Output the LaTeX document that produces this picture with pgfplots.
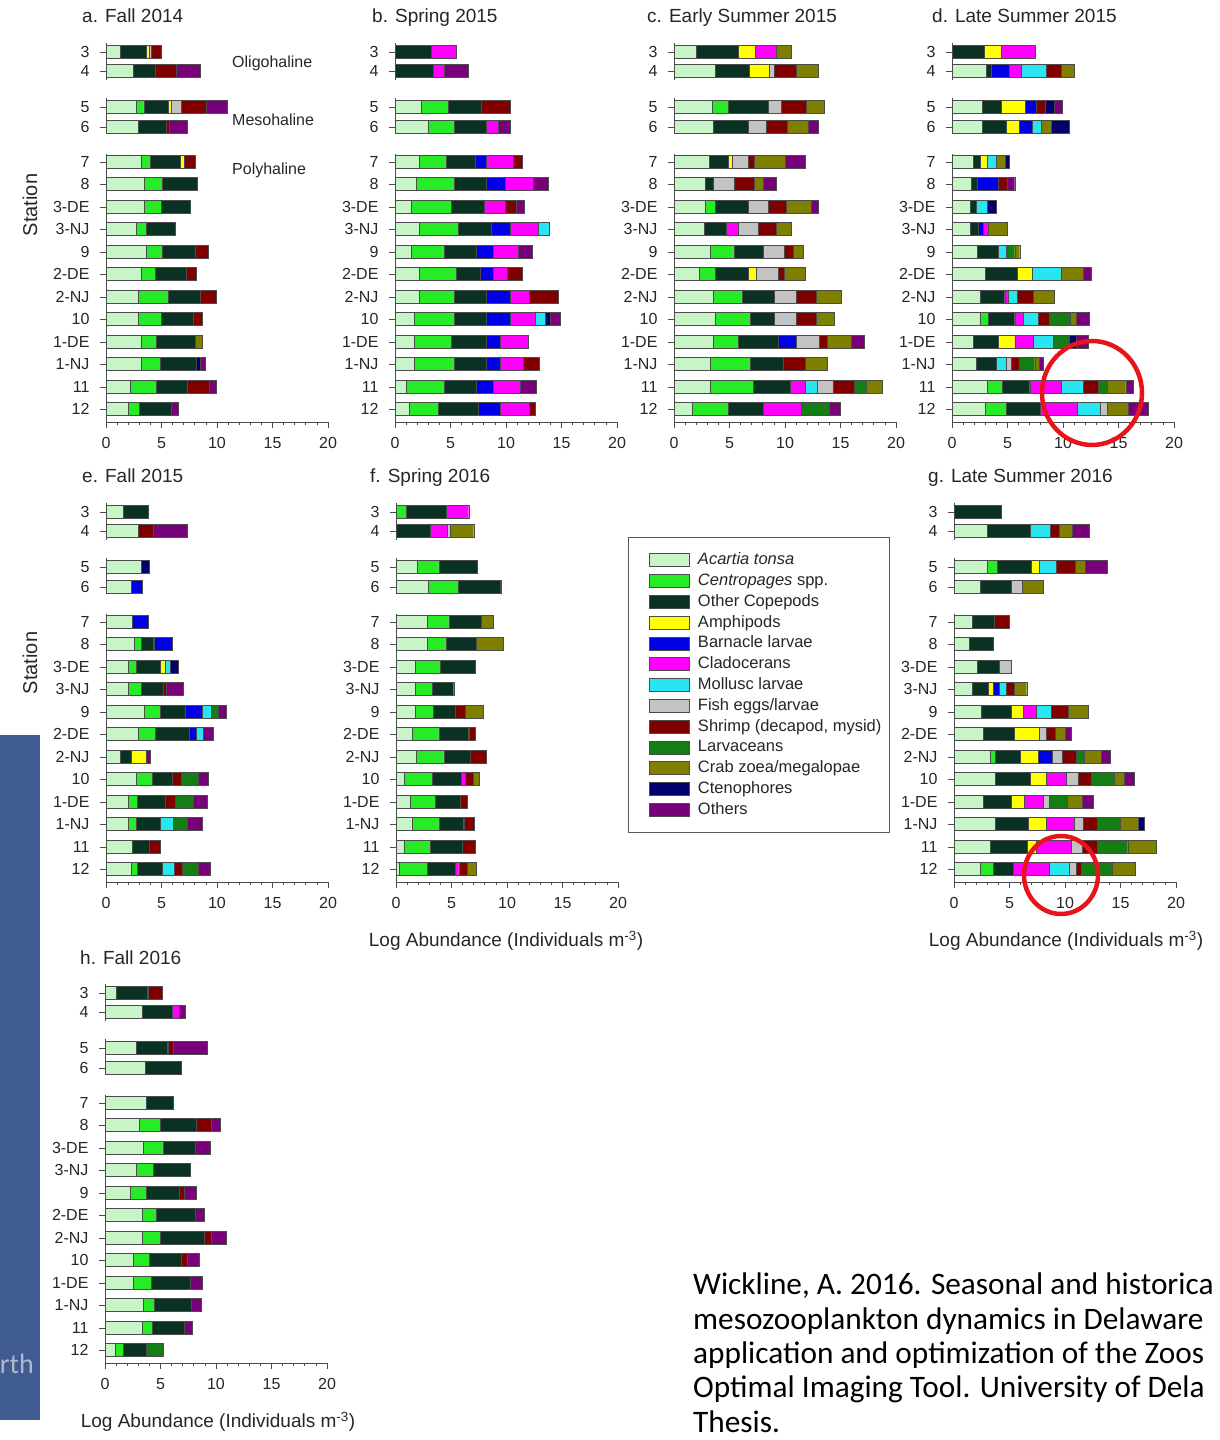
\documentclass[border=0pt]{standalone}
\usepackage{pgfplots}
\pgfplotsset{compat=1.18}
\usepackage{pgfplotstable}
\usepackage{fontspec}
\setmainfont{Liberation Sans}
\newfontfamily\calib{Carlito}

\definecolor{cAc}{RGB}{200,245,200}
\definecolor{cCe}{RGB}{40,235,40}
\definecolor{cOc}{RGB}{10,50,35}
\definecolor{cAm}{RGB}{255,255,0}
\definecolor{cBa}{RGB}{0,0,230}
\definecolor{cCl}{RGB}{255,0,255}
\definecolor{cMo}{RGB}{40,230,240}
\definecolor{cFi}{RGB}{195,195,195}
\definecolor{cSh}{RGB}{128,0,0}
\definecolor{cLa}{RGB}{20,125,20}
\definecolor{cCr}{RGB}{128,128,0}
\definecolor{cCt}{RGB}{0,0,110}
\definecolor{cOt}{RGB}{120,0,120}
\definecolor{bgblue}{RGB}{63,91,143}
\definecolor{circ}{RGB}{232,20,27}

% columns: y ac ce oc am ba cl mo fi sh la cr ct ot
\pgfplotstableread{
y ac ce oc am ba cl mo fi sh la cr ct ot
357 1.3 0 2.35 0.2 0 0 0 0.25 0.9 0 0 0 0
338 2.45 0 1.95 0 0 0 0 0 1.95 0 0 0 2.1
302 2.75 0.65 2.2 0.3 0 0 0 0.9 2.25 0 0 0 1.9
282 2.9 0 2.5 0 0 0 0 0 0.3 0 0 0 1.6
247 3.2 0.8 2.65 0.4 0 0 0 0 0.95 0 0 0 0
225 3.4 1.7 3.1 0 0 0 0 0 0 0 0 0 0
202 3.4 1.55 2.6 0 0 0 0 0 0 0 0 0 0
180 2.7 0.95 2.55 0 0 0 0 0 0 0 0 0 0
157 3.65 1.45 2.9 0 0 0 0 0 1.2 0 0 0 0
135 3.2 1.2 2.8 0 0 0 0 0 0.95 0 0 0 0
112 2.9 2.7 2.85 0 0 0 0 0 1.45 0 0 0 0
90 2.9 2.1 2.85 0 0 0 0 0 0.85 0 0 0 0
67 3.2 1.3 3.5 0 0 0 0 0 0 0 0.65 0 0
45 3.2 1.65 3.3 0 0 0 0 0 0 0 0 0.3 0.45
22 2.2 2.35 2.75 0 0 0 0 0 2.0 0 0 0 0.6
0 2.0 1.0 2.9 0 0 0 0 0 0 0 0 0 0.6
}\tabA
\pgfplotstableread{
y ac ce oc am ba cl mo fi sh la cr ct ot
357 0 0 3.3 0 0 2.2 0 0 0 0 0 0 0
338 0 0 3.45 0 0 1.0 0 0 0 0 0 0 2.15
302 2.4 2.4 3.0 0 0 0 0 0 2.55 0 0 0 0
282 3.0 2.3 2.95 0 0 1.05 0 0 0 0 0 0 1.05
247 2.2 2.4 2.6 0 1.05 2.4 0 0 0.85 0 0 0 0
225 1.95 3.35 2.9 0 1.7 2.55 0 0 0 0 0 0 1.35
202 1.5 3.6 2.9 0 0 1.9 0 0 1.05 0 0 0 0.65
180 2.2 3.5 3.0 0 1.65 2.55 1.0 0 0 0 0 0 0
157 1.5 2.9 2.95 0 1.5 2.25 0 0 0 0 0 0 1.25
135 2.2 3.35 2.1 0 1.2 1.25 0 0 1.4 0 0 0 0
112 2.2 3.1 2.9 0 2.15 1.75 0 0 2.6 0 0 0 0
90 1.7 3.6 2.9 0 2.15 2.25 0.9 0 0 0 0 0.45 0.9
67 1.7 3.4 3.1 0 1.3 2.5 0 0 0 0 0 0 0
45 1.7 3.6 2.9 0 1.3 2.05 0 0 1.45 0 0 0 0
22 1.05 3.35 2.95 0 1.5 2.45 0 0 0 0 0 0 1.4
0 1.3 2.6 3.6 0 2.0 2.6 0 0 0.5 0 0 0 0
}\tabB
\pgfplotstableread{
y ac ce oc am ba cl mo fi sh la cr ct ot
357 2.0 0 3.75 1.55 0 1.9 0 0 0 0 1.4 0 0
338 3.7 0 3.1 1.8 0 0 0 0.4 2.0 0 2.0 0 0
302 3.4 1.45 3.65 0 0 0 0 1.2 2.2 0 1.6 0 0
282 3.5 0 3.2 0 0 0 0 1.6 1.9 0 1.85 0 0.95
247 3.2 0 1.65 0.35 0 0 0 1.45 0.6 0 2.75 0 1.8
225 2.8 0 0.7 0 0 0 0 1.9 1.85 0 0.75 0 1.2
202 2.8 0.9 3.0 0 0 0 0 1.8 1.6 0 2.25 0 0.65
180 2.75 0 1.95 0 0 1.1 0 1.75 1.65 0 1.4 0 0
157 3.3 2.1 2.6 0 0 0 0 1.95 0.75 0 0.9 0 0
135 2.3 1.4 3.0 0.7 0 0 0 1.95 0.6 0 1.85 0 0
112 3.5 2.6 2.9 0 0 0 0 2.0 1.8 0 2.3 0 0
90 3.7 3.2 2.1 0 0 0 0 2.0 1.8 0 1.65 0 0
67 3.5 2.3 3.55 0 1.65 0 0 2.1 0.7 0 2.15 0 1.2
45 3.3 3.6 2.9 0 0 0 0 0 2.0 0 2.0 0 0
22 3.3 3.8 3.4 0 0 1.3 1.1 1.4 1.95 1.05 1.5 0 0
0 1.6 3.3 3.1 0 0 3.45 0 0 0 2.55 0 0 1.0
}\tabC
\pgfplotstableread{
y ac ce oc am ba cl mo fi sh la cr ct ot
357 0 0 2.9 1.5 0 3.1 0 0 0 0 0 0 0
338 3.1 0 0.4 0 1.65 1.05 2.25 0 1.35 0 1.2 0 0
302 2.7 0 1.7 2.2 1.0 0 0 0 0.8 0 0 0.8 0.7
282 2.7 0 2.2 1.15 1.2 0 0.75 0 0 0 0.9 1.7 0
247 1.95 0 0.55 0.65 0 0 0.8 0 0 0 0.85 0.35 0
225 1.75 0 0.5 0 1.9 0 0 0 0.8 0 0 0 0.7
202 1.65 0 0.5 0 0 0 1.0 0 0 0 0 0.8 0
180 1.65 0 0.75 0 0.4 0.5 0 0 0 0 1.7 0 0
157 2.25 0 1.9 0 0 0 0.7 0 0 0.8 0.45 0 0
135 3.0 0 2.9 1.3 0 0 2.6 0 0 0 2.0 0 0.7
112 2.55 0 2.2 0 0 0.3 0.8 0 1.5 0 1.9 0 0
90 2.55 0.7 2.4 0 0 0.8 1.3 0 1.0 1.9 0.5 0 1.2
67 1.95 0 2.2 1.5 0 1.65 1.8 0 0 1.5 0 0.6 1.1
45 2.2 0 1.8 0 0 0 0.85 0.5 0.7 1.4 0.4 0 0.4
22 3.2 1.3 2.5 0 0 2.8 2.0 0 1.35 0.8 1.7 0 0.7
0 3.0 1.9 3.05 0 0 3.3 2.1 0.6 0 0 1.95 0 1.8
}\tabD
\pgfplotstableread{
y ac ce oc am ba cl mo fi sh la cr ct ot
357 1.55 0 2.25 0 0 0 0 0 0 0 0 0 0
338 2.9 0 0 0 0 0 0 0 1.35 0 0 0 3.05
302 3.2 0 0 0 0 0 0 0 0 0 0 0.7 0
282 2.3 0 0 0 1.0 0 0 0 0 0 0 0 0
247 2.4 0 0 0 1.4 0 0 0 0 0 0 0 0
225 2.5 0.7 1.1 0 1.7 0 0 0 0 0 0 0 0
202 2.0 0.75 2.15 0.4 0 0 0.45 0 0 0 0 0.75 0
180 2.0 1.2 1.95 0 0 0 0 0 0.3 0 0 0 1.5
157 3.4 1.5 2.2 0 1.6 0 0.8 0 0 0.6 0 0 0.75
135 2.9 1.5 3.1 0 0.65 0 0.6 0 0 0 0 0 0.9
112 1.25 0 1.05 1.3 0 0 0 0 0 0 0 0 0.35
90 2.75 1.45 1.8 0 0 0 0 0 0.8 1.5 0 0 0.95
67 2.0 0.8 2.5 0 0 0 0 0 0.9 1.7 0 0 1.2
45 2.0 0.7 2.2 0 0 0 1.15 0 0 1.25 0 0 1.4
22 2.4 0 1.5 0 0 0 0 0 0.95 0 0 0 0
0 2.3 0.5 2.3 0 0 0 1.0 0 0.8 1.4 0 0 1.1
}\tabE
\pgfplotstableread{
y ac ce oc am ba cl mo fi sh la cr ct ot
357 0 0.9 3.65 0 0 2.0 0 0 0 0 0 0 0
338 0 0 3.1 0 0 1.5 0 0.3 0 0 2.1 0 0
302 1.95 1.9 3.5 0 0 0 0 0 0 0 0 0 0
282 2.9 2.7 3.75 0 0 0 0 0 0.15 0 0 0 0
247 2.85 1.9 2.9 0 0 0 0 0 0 0 1.15 0 0
225 2.8 1.75 2.7 0 0 0 0 0 0 0 2.4 0 0
202 1.75 2.25 3.15 0 0 0 0 0 0 0 0 0 0
180 1.75 1.5 1.95 0 0 0 0 0 0 0 0 0 0
157 1.75 1.6 2.0 0 0 0 0 0 0.9 0 1.6 0 0
135 1.45 2.4 2.7 0 0 0 0 0 0.6 0 0 0 0
112 1.8 2.5 2.35 0 0 0 0 0 1.5 0 0 0 0
90 0.75 2.55 2.6 0 0 0.3 0 0 0.75 0 0.55 0 0
67 1.25 2.3 2.25 0 0 0 0 0 0.65 0 0 0 0
45 1.45 2.4 2.25 0 0 0 0 0 0.95 0 0 0 0
22 0.75 2.35 2.85 0 0 0 0 0 1.2 0 0 0 0
0 0.25 2.55 2.55 0 0 0.3 0 0 0.75 0 0.85 0 0
}\tabF
\pgfplotstableread{
y ac ce oc am ba cl mo fi sh la cr ct ot
357 0 0 4.25 0 0 0 0 0 0 0 0 0 0
338 3.0 0 3.85 0 0 0 1.85 0 0.75 0 1.2 0 1.5
302 3.0 0.9 3.05 0.7 0 0 1.6 0 1.65 0 0.9 0 2.0
282 2.4 0 2.75 0 0 0 0 1.0 0 0 1.85 0 0
247 1.65 0 2.0 0 0 0 0 0 1.3 0 0 0 0
225 1.35 0 2.15 0 0 0 0 0 0 0 0 0 0
202 2.1 0 1.95 0 0 0 0 1.1 0 0 0 0 0
180 1.65 0 1.4 0.45 0.55 0 0.65 0 0.75 0 1.1 0 0
157 2.45 0 2.7 1.1 0 1.15 1.35 0 1.5 0 1.85 0 0
135 2.65 0 2.75 2.25 0 0 0 0.65 0.85 0 0.9 0 0.55
112 3.25 0.5 2.2 1.6 1.3 0 0 0.9 1.3 0.7 1.5 0 0.8
90 3.75 0 3.1 1.45 0 1.85 0 1.0 1.25 2.0 0.9 0 0.9
67 2.65 0 2.5 1.2 0 1.7 0 0.5 0 1.65 1.35 0 1.0
45 3.75 0 2.9 1.65 0 2.5 0 0.8 1.3 2.1 1.6 0.5 0
22 3.25 0 3.35 0.8 0 3.2 0 0.95 1.35 2.75 2.55 0 0
0 2.4 1.15 1.8 0 0 3.2 1.85 0.6 0.45 2.8 2.1 0 0
}\tabG
\pgfplotstableread{
y ac ce oc am ba cl mo fi sh la cr ct ot
357 1.0 0 2.85 0 0 0 0 0 1.3 0 0 0 0
338 3.35 0 2.7 0 0 0.65 0 0 0 0 0 0 0.55
302 2.8 0 2.85 0 0 0 0 0 0.5 0 0 0 3.1
282 3.65 0 3.2 0 0 0 0 0 0 0 0 0 0
247 3.75 0 2.4 0 0 0 0 0 0 0 0 0 0
225 3.05 1.9 3.3 0 0 0 0 0 1.3 0 0 0 0.8
202 3.45 1.75 2.95 0 0 0 0 0 0 0 0 0 1.3
180 2.8 1.55 3.3 0 0 0 0 0 0 0 0 0 0
157 2.25 1.45 3.0 0 0 0 0 0 0.45 0 0 0 1.05
135 3.35 1.3 3.45 0 0 0 0 0 0 0 0 0 0.8
112 3.35 1.6 4.0 0 0 0 0 0 0.6 0 0 0 1.35
90 2.55 1.4 2.9 0 0 0 0 0 0.6 0 0 0 1.0
67 2.55 1.6 3.5 0 0 0 0 0 0 0 0 0 1.1
45 3.45 1.0 3.3 0 0 0 0 0 0 0 0 0 0.9
22 3.35 0.9 2.9 0 0 0 0 0 0 0 0 0 0.75
0 0.9 0.7 2.15 0 0 0 0 0 0 1.45 0 0 0
}\tabH

\pgfplotsset{
  seg/.style={fill=#1, draw=black!70, line width=0.4pt,
    legend image code/.code={\path (0pt,0pt); \draw[##1] (12pt,-6.5pt) rectangle (52pt,6.5pt);}},
  panel/.style={anchor=south west, x=11.1pt, y=1pt,
    xmin=0, xmax=20, ymin=-13, ymax=369,
    xbar stacked, bar width=13,
    axis x line*=bottom, axis y line*=left,
    y axis line style={draw=none},
    x axis line style={black!70, line width=0.7pt},
    tick align=outside, major tick length=6pt, minor tick length=3pt,
    every tick/.style={black!70, line width=0.7pt},
    xtick={0,5,10,15,20}, minor x tick num=4,
    ytick={357,338,302,282,247,225,202,180,157,135,112,90,67,45,22,0},
    yticklabels={3,4,5,6,7,8,3-DE,3-NJ,9,2-DE,2-NJ,10,1-DE,1-NJ,11,12},
    tick label style={font=\fontsize{16}{16}\selectfont, text=black!85},
    xticklabel style={yshift=-6pt},
    yticklabel style={xshift=-7pt},
    /pgf/number format/assume math mode=true,
    clip=false},
}

\newcommand{\stack}[1]{%
  \addplot[seg=cAc] table[x=ac,y=y]{#1};
  \addplot[seg=cCe] table[x=ce,y=y]{#1};
  \addplot[seg=cOc] table[x=oc,y=y]{#1};
  \addplot[seg=cAm] table[x=am,y=y]{#1};
  \addplot[seg=cBa] table[x=ba,y=y]{#1};
  \addplot[seg=cCl] table[x=cl,y=y]{#1};
  \addplot[seg=cMo] table[x=mo,y=y]{#1};
  \addplot[seg=cFi] table[x=fi,y=y]{#1};
  \addplot[seg=cSh] table[x=sh,y=y]{#1};
  \addplot[seg=cLa] table[x=la,y=y]{#1};
  \addplot[seg=cCr] table[x=cr,y=y]{#1};
  \addplot[seg=cCt] table[x=ct,y=y]{#1};
  \addplot[seg=cOt] table[x=ot,y=y]{#1};
  \draw[black!70, line width=0.7pt] (axis cs:0,366) -- (axis cs:0,329);
  \draw[black!70, line width=0.7pt] (axis cs:0,311) -- (axis cs:0,276);
  \draw[black!70, line width=0.7pt] (axis cs:0,255) -- (axis cs:0,-13);
}

\begin{document}
\begin{tikzpicture}
\path[use as bounding box] (0pt,0pt) rectangle (1219pt,1440pt);
\fill[bgblue] (0pt,20pt) rectangle (40pt,705pt);
\node[anchor=base east, text={rgb,255:red,175;green,185;blue,205}, inner sep=0pt] at (34pt,66pt) {\calib\fontsize{28}{28}\selectfont rth};

\begin{axis}[panel, at={(106pt,1018pt)}]\stack{\tabA}\end{axis}
\begin{axis}[panel, at={(395pt,1018pt)}]\stack{\tabB}\end{axis}
\begin{axis}[panel, at={(674pt,1018pt)}]\stack{\tabC}\end{axis}
\begin{axis}[panel, at={(952pt,1018pt)}]\stack{\tabD}\end{axis}
\begin{axis}[panel, at={(106pt,558pt)}]\stack{\tabE}\end{axis}
\begin{axis}[panel, at={(396pt,558pt)},
  legend entries={\textit{Acartia tonsa},\textit{Centropages} spp.,Other Copepods,Amphipods,Barnacle larvae,Cladocerans,Mollusc larvae,Fish eggs/larvae,{Shrimp (decapod, mysid)},Larvaceans,Crab zoea/megalopae,Ctenophores,Others},
  legend cell align=left,
  legend style={at={(1.045,0.903)}, anchor=north west, draw=black!65, line width=1.2pt, fill=white,
    font=\fontsize{16.5}{16.5}\selectfont, text=black!85, inner xsep=8pt, inner ysep=15pt,
    row sep=5.8pt, column sep=9pt,
    nodes={inner xsep=0pt, inner ysep=0pt, text height=12pt, text depth=3pt}}]
\stack{\tabF}\end{axis}
\begin{axis}[panel, at={(954pt,558pt)}]\stack{\tabG}\end{axis}
\begin{axis}[panel, at={(105pt,77pt)}]\stack{\tabH}\end{axis}

% titles
\begin{scope}[every node/.style={anchor=base west, inner sep=0pt, text=black!85, font=\fontsize{19}{19}\selectfont}]
\node at (82pt,1417pt) {a. Fall 2014};
\node at (372pt,1417pt) {b. Spring 2015};
\node at (647pt,1417pt) {c. Early Summer 2015};
\node at (932pt,1417pt) {d. Late Summer 2015};
\node at (82pt,957pt) {e. Fall 2015};
\node at (370pt,957pt) {f. Spring 2016};
\node at (928pt,957pt) {g. Late Summer 2016};
\node at (80pt,475pt) {h. Fall 2016};
\end{scope}
\begin{scope}[every node/.style={anchor=base west, inner sep=0pt, text=black!85, font=\fontsize{16}{16}\selectfont}]
\node at (232pt,1372pt) {Oligohaline};
\node at (232pt,1314pt) {Mesohaline};
\node at (232pt,1265pt) {Polyhaline};
\end{scope}
\begin{scope}[every node/.style={inner sep=0pt, text=black!85}]
\node[rotate=90, font=\fontsize{20}{20}\selectfont] at (30pt,1235pt) {Station};
\node[rotate=90, font=\fontsize{20}{20}\selectfont] at (30pt,777pt) {Station};
\node[font=\fontsize{19}{19}\selectfont] at (506pt,499pt) {Log Abundance (Individuals m\textsuperscript{-3})};
\node[font=\fontsize{19}{19}\selectfont] at (1066pt,499pt) {Log Abundance (Individuals m\textsuperscript{-3})};
\node[font=\fontsize{19}{19}\selectfont] at (218pt,18pt) {Log Abundance (Individuals m\textsuperscript{-3})};
\end{scope}

% red circles
\draw[circ, line width=4.5pt] (1092pt,1047pt) ellipse [x radius=50pt, y radius=52pt];
\draw[circ, line width=4.5pt] (1061pt,565pt) ellipse [x radius=37pt, y radius=39pt];

% citation (cut at the right edge as in the reference)
\begin{scope}[every node/.style={anchor=base west, inner sep=0pt, font=\calib\fontsize{31.3}{31.3}\selectfont}]
\node at (693pt,145pt) {Wickline, A. 2016. Seasonal and historica};
\node at (693pt,110.5pt) {mesozooplankton dynamics in Delaware};
\node at (693pt,76pt) {application and optimization of the Zoos};
\node at (693pt,42pt) {Optimal Imaging Tool. University of Dela};
\node at (693pt,8pt) {Thesis.};
\end{scope}
\end{tikzpicture}
\end{document}
